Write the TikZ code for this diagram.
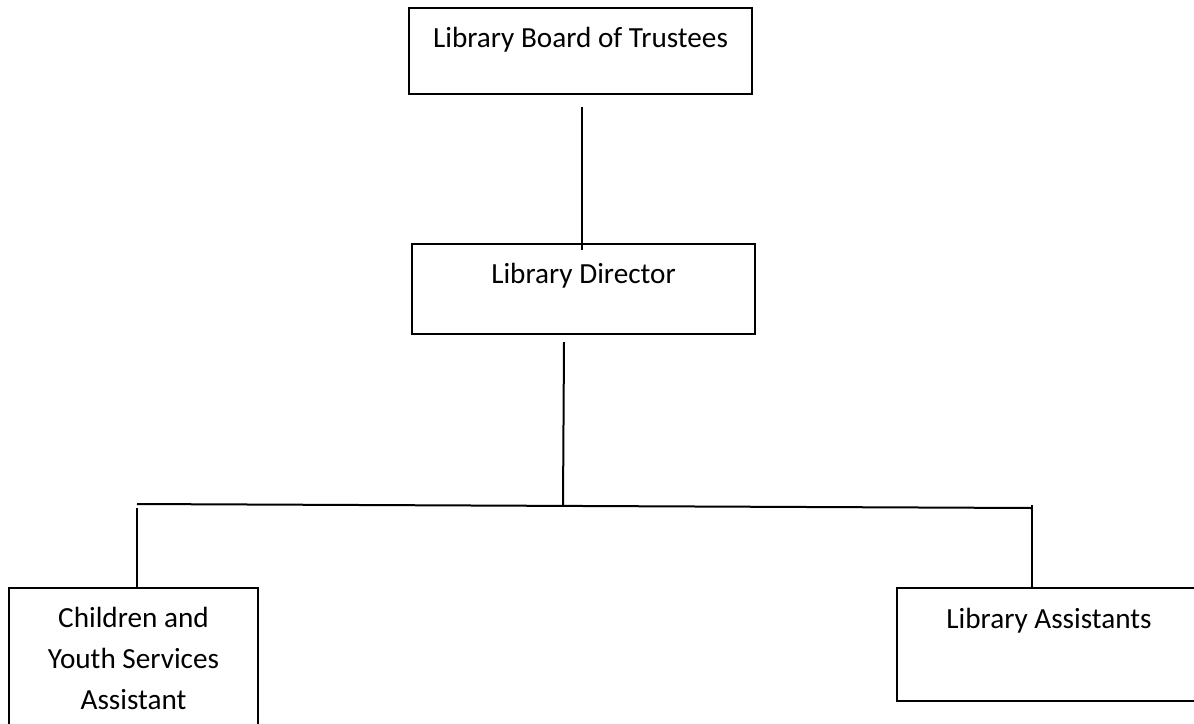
\documentclass[tikz,border=0pt]{standalone}
\usepackage{fontspec}
\setmainfont{Carlito}
\usetikzlibrary{positioning}

\tikzset{
    orgbox/.style={draw, line width=1pt, anchor=north west, inner xsep=0pt, inner ysep=0pt,
        align=center, font=\fontsize{14.6}{20.5}\selectfont},
    orgline/.style={line width=1pt},
}

\begin{document}
\begin{tikzpicture}[x=0.5pt, y=-0.5pt]

    \useasboundingbox (0,0) rectangle (1194,723);
    \clip (0,0) rectangle (1194,723);

    % the boxes
    \node[orgbox, minimum width=171.5pt, text height=19.5pt, text depth=23.5pt] (board) at (408,7) {Library Board of Trustees};
    \node[orgbox, minimum width=171.5pt, text height=19.5pt, text depth=25.5pt] (director) at (411,243) {Library Director};
    \node[orgbox, minimum width=124.5pt, text height=60.5pt, text depth=20pt] (children) at (8,587) {Children and\\Youth Services\\Assistant};
    \node[orgbox, minimum width=152pt, text height=20pt, text depth=36.5pt] (assistants) at (896,587) {Library Assistants};

    % the branch points
    \coordinate (hub) at (563,506);
    \coordinate (lft) at (137,504);
    \coordinate (rgt) at (1032,508);

    % connectors
    \draw[orgline] ([xshift=0.75pt,yshift=-6pt]board.south) -- ([xshift=-0.75pt,yshift=-3.5pt]director.north);
    \draw[orgline] ([xshift=-9.75pt,yshift=-3.5pt]director.south) -- (hub);
    \draw[orgline] (lft) -- (rgt);
    \draw[orgline] ([yshift=-2pt]lft) -- (children.north -| lft);
    \draw[orgline] ([yshift=1.5pt]rgt) -- (assistants.north -| rgt);

\end{tikzpicture}
\end{document}
